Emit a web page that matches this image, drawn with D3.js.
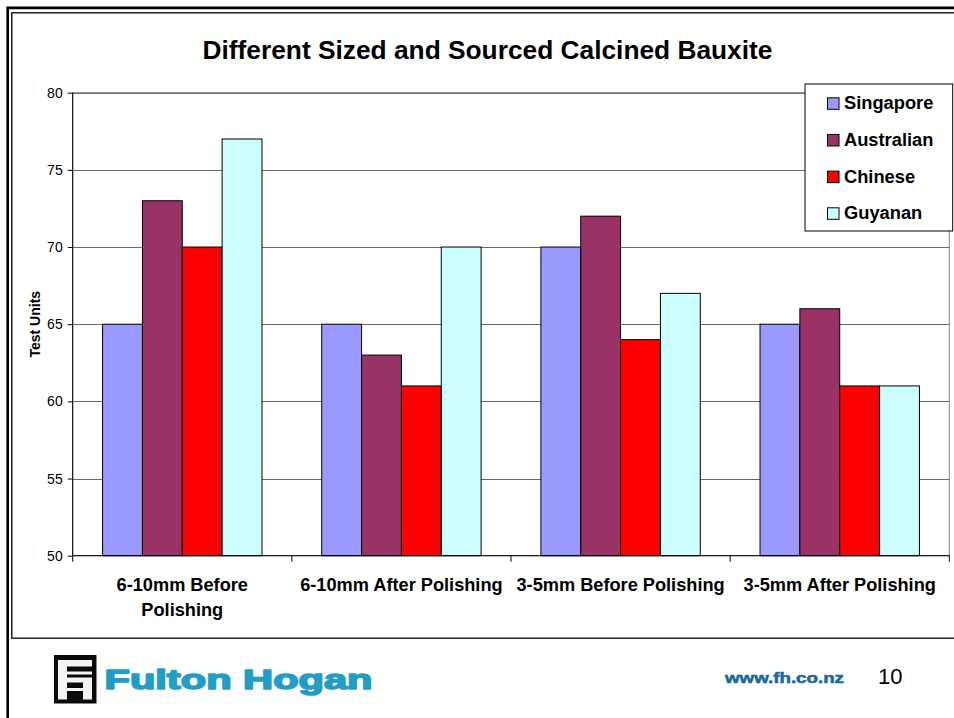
<!DOCTYPE html>
<html>
<head>
<meta charset="utf-8">
<script src="https://cdn.jsdelivr.net/npm/d3@7/dist/d3.min.js"></script>
<style>
  html, body { margin: 0; padding: 0; background: #fff; }
  svg { display: block; }
  text { font-family: "Liberation Sans", Arial, sans-serif; }
</style>
</head>
<body>
<svg id="chart" width="954" height="718"></svg>
<script>
// ---- Data ----
const categories = ["6-10mm Before Polishing", "6-10mm After Polishing", "3-5mm Before Polishing", "3-5mm After Polishing"];
const seriesNames = ["Singapore", "Australian", "Chinese", "Guyanan"];
const singapore  = [65, 65, 70, 65];
const australian = [73, 63, 72, 66];
const chinese    = [70, 61, 64, 61];
const guyanan    = [77, 70, 67, 61];
const seriesColors = ["#9999FF", "#993366", "#FF0000", "#CCFFFF"];
const yTicks = [50, 55, 60, 65, 70, 75, 80];
const titleText = "Different Sized and Sourced Calcined Bauxite";
const yAxisTitle = "Test Units";

const seriesValues = [singapore, australian, chinese, guyanan];

// ---- Layout ----
const svg = d3.select("#chart");
const W = 954, H = 718;
const plot = { left: 72.7, right: 949.3, top: 92.7, bottom: 555.7 };

// Slide borders
svg.append("path")
  .attr("d", `M7.7,${H + 5} V7.9 H${W + 5}`)
  .attr("fill", "none").attr("stroke", "#000").attr("stroke-width", 2.6);
svg.append("rect")
  .attr("x", 11.8).attr("y", 12.8).attr("width", W + 20).attr("height", 638.2 - 12.8)
  .attr("fill", "#fff").attr("stroke", "#111").attr("stroke-width", 1.4);

// Scales
const x0 = d3.scaleBand().domain(categories).range([plot.left, plot.right]).paddingInner(0).paddingOuter(0);
const x1 = d3.scaleBand().domain(seriesNames).range([0, x0.bandwidth()]).paddingInner(0).paddingOuter(0.75);
const y = d3.scaleLinear().domain([50, 80]).range([plot.bottom, plot.top]);
const color = d3.scaleOrdinal().domain(seriesNames).range(seriesColors);

// Plot area border (gray)
svg.append("rect")
  .attr("x", plot.left).attr("y", plot.top)
  .attr("width", plot.right - plot.left).attr("height", plot.bottom - plot.top)
  .attr("fill", "#fff").attr("stroke", "#808080").attr("stroke-width", 1);

// Gridlines
svg.append("g").selectAll("line").data(yTicks.filter(d => d > 50)).join("line")
  .attr("x1", plot.left).attr("x2", plot.right)
  .attr("y1", d => Math.round(y(d)) + 0.5).attr("y2", d => Math.round(y(d)) + 0.5)
  .attr("stroke", d => d === 80 ? "#707070" : "#6a6a6a").attr("stroke-width", 1);

// Bars
const rows = categories.map((c, i) => ({ cat: c, vals: seriesNames.map((s, j) => ({ s, v: seriesValues[j][i] })) }));
const groups = svg.append("g").selectAll("g").data(rows).join("g")
  .attr("transform", d => `translate(${x0(d.cat)},0)`);
groups.selectAll("rect").data(d => d.vals).join("rect")
  .attr("x", d => x1(d.s))
  .attr("y", d => y(d.v))
  .attr("width", x1.bandwidth())
  .attr("height", d => y(50) - y(d.v))
  .attr("fill", d => color(d.s))
  .attr("stroke", "#000").attr("stroke-width", 1);

// Y axis
const yAxis = d3.axisLeft(y).tickValues(yTicks).tickSize(5).tickPadding(5).tickFormat(d3.format("d"));
const gy = svg.append("g").attr("transform", `translate(${plot.left},0)`).call(yAxis);
gy.select(".domain").attr("stroke", "#000").attr("d", `M0,${plot.top}V${plot.bottom}`);
gy.selectAll(".tick line").attr("stroke", "#000");
gy.selectAll(".tick text").attr("font-size", 14).attr("fill", "#000")
  .attr("font-family", '"Liberation Sans", Arial, sans-serif');

// X axis (ticks at group boundaries)
const boundaries = categories.map(c => x0(c)).concat([plot.right]);
const gx = svg.append("g");
gx.append("line").attr("x1", plot.left).attr("x2", plot.right)
  .attr("y1", plot.bottom).attr("y2", plot.bottom).attr("stroke", "#000");
gx.selectAll("line.tk").data(boundaries).join("line").attr("class", "tk")
  .attr("x1", d => d).attr("x2", d => d)
  .attr("y1", plot.bottom).attr("y2", plot.bottom + 6).attr("stroke", "#000");

// Category labels with wrapping
const wrapLimit = x0.bandwidth() - 6;
const catLabels = svg.append("g").selectAll("text").data(categories).join("text")
  .attr("x", d => x0(d) + x0.bandwidth() / 2)
  .attr("y", 591)
  .attr("text-anchor", "middle")
  .attr("font-size", 18.2).attr("font-weight", "bold").attr("fill", "#000");
catLabels.each(function (d) {
  const t = d3.select(this);
  t.text(d);
  if (this.getComputedTextLength() <= wrapLimit) return;
  t.text(null);
  const words = d.split(" ");
  let lines = [], cur = [];
  const tmp = t.append("tspan");
  words.forEach(w => {
    const test = cur.concat([w]).join(" ");
    tmp.text(test);
    if (tmp.node().getComputedTextLength() > wrapLimit && cur.length) {
      lines.push(cur.join(" ")); cur = [w];
    } else cur.push(w);
  });
  lines.push(cur.join(" "));
  tmp.remove();
  const cx = x0(d) + x0.bandwidth() / 2;
  lines.forEach((ln, i) => {
    t.append("tspan").attr("x", cx).attr("dy", i === 0 ? 0 : 24.5).text(ln);
  });
});

// Y axis title
svg.append("text")
  .attr("transform", `translate(40,${(plot.top + plot.bottom) / 2}) rotate(-90)`)
  .attr("text-anchor", "middle")
  .attr("font-size", 14).attr("font-weight", "bold").attr("fill", "#000")
  .text(yAxisTitle);

// Title
svg.append("text")
  .attr("x", 487.5).attr("y", 58.5)
  .attr("text-anchor", "middle")
  .attr("font-size", 26.3).attr("font-weight", "bold").attr("fill", "#000")
  .text(titleText);

// Legend
const legend = svg.append("g");
legend.append("rect").attr("x", 805).attr("y", 84).attr("width", 147.7).attr("height", 147)
  .attr("fill", "#fff").attr("stroke", "#000").attr("stroke-width", 1);
const ly = d3.scalePoint().domain(seriesNames).range([109.3, 219.3]);
const li = legend.selectAll("g").data(seriesNames).join("g");
li.append("rect")
  .attr("x", 827.5).attr("y", d => ly(d) - 11.5)
  .attr("width", 11.5).attr("height", 11.5)
  .attr("fill", d => color(d)).attr("stroke", "#000").attr("stroke-width", 1);
li.append("text")
  .attr("x", 844).attr("y", d => ly(d))
  .attr("font-size", 18.3).attr("font-weight", "bold").attr("fill", "#000")
  .text(d => d);

// Footer: logo
const logo = svg.append("g");
logo.append("rect").attr("x", 54).attr("y", 655).attr("width", 42.5).attr("height", 48.5).attr("fill", "#0a0a0a");
const logoParts = [
  [58, 660, 34, 6.5],   // top bar of F
  [58, 660, 9, 25],     // left stem of F
  [67, 671.5, 25, 3],   // mid bar
  [58, 677.5, 34, 5],   // cross bar
  [58, 682, 9, 17.5],   // H left
  [83, 682, 9, 17.5],   // H right
  [67, 688, 16, 3]      // H bar
];
logo.selectAll("rect.p").data(logoParts).join("rect").attr("class", "p")
  .attr("x", d => d[0]).attr("y", d => d[1]).attr("width", d => d[2]).attr("height", d => d[3])
  .attr("fill", "#f4f4f4");
svg.append("text")
  .attr("x", 104.5).attr("y", 688.5)
  .attr("font-family", '"DejaVu Sans", sans-serif')
  .attr("font-size", 27).attr("font-weight", "bold").attr("fill", "#1f9ec8")
  .attr("stroke", "#1f9ec8").attr("stroke-width", 1.6).attr("stroke-linejoin", "round")
  .attr("textLength", 268).attr("lengthAdjust", "spacingAndGlyphs")
  .text("Fulton Hogan");

// Footer: URL and page number
svg.append("text")
  .attr("x", 725).attr("y", 683.3)
  .attr("font-family", '"DejaVu Sans", sans-serif')
  .attr("font-size", 14.5).attr("font-weight", "bold").attr("fill", "#1668a0")
  .attr("stroke", "#1668a0").attr("stroke-width", 0.5)
  .attr("textLength", 119).attr("lengthAdjust", "spacingAndGlyphs")
  .text("www.fh.co.nz");
svg.append("text")
  .attr("x", 878).attr("y", 683.5)
  .attr("font-family", '"Liberation Serif", "Times New Roman", serif')
  .attr("font-size", 22).attr("fill", "#000")
  .text("10");
</script>
</body>
</html>
